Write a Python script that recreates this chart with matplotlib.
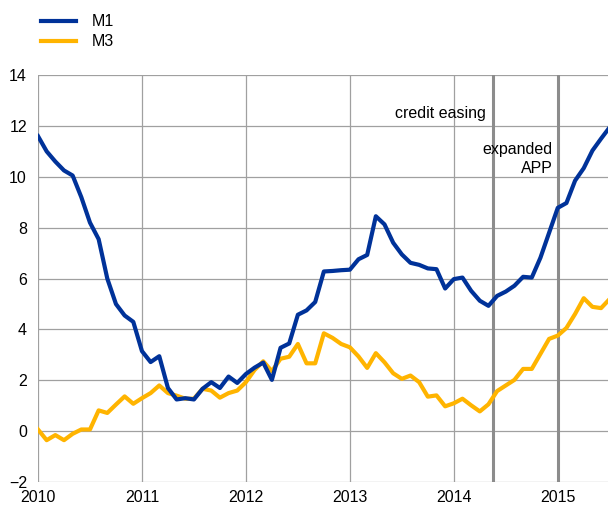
import matplotlib
matplotlib.use("Agg")
import matplotlib.pyplot as plt
import numpy as np

plt.rcParams['font.family'] = ['Liberation Sans', 'DejaVu Sans']

# monthly annual growth rates, Jan 2010 - Jul 2015
m1 = [11.6, 11.0, 10.6, 10.25, 10.05, 9.2, 8.2, 7.55, 6.0, 5.0, 4.55, 4.3,
      3.15, 2.72, 2.95, 1.7, 1.25, 1.3, 1.25, 1.67, 1.93, 1.7, 2.15, 1.9,
      2.25, 2.5, 2.7, 2.02, 3.28, 3.45, 4.58, 4.75, 5.08, 6.28, 6.3, 6.33,
      6.35, 6.76, 6.93, 8.45, 8.13, 7.41, 6.95, 6.62, 6.54, 6.4, 6.37, 5.61,
      5.98, 6.04, 5.52, 5.13, 4.93, 5.32, 5.49, 5.72, 6.07, 6.04, 6.82, 7.8,
      8.78, 8.97, 9.85, 10.34, 11.03, 11.5, 11.95]
m3 = [0.07, -0.35, -0.15, -0.35, -0.1, 0.07, 0.07, 0.82, 0.72, 1.05, 1.37, 1.08,
      1.3, 1.5, 1.8, 1.5, 1.4, 1.28, 1.28, 1.67, 1.6, 1.32, 1.5, 1.6,
      1.93, 2.41, 2.75, 2.36, 2.85, 2.93, 3.43, 2.67, 2.67, 3.85, 3.67, 3.43,
      3.3, 2.94, 2.49, 3.07, 2.71, 2.28, 2.06, 2.19, 1.93, 1.36, 1.41, 0.98,
      1.1, 1.28, 1.02, 0.78, 1.06, 1.58, 1.8, 2.02, 2.45, 2.45, 3.04, 3.63,
      3.76, 4.06, 4.61, 5.23, 4.89, 4.84, 5.2]
years = [2010, 2011, 2012, 2013, 2014, 2015]
events = [2014.38, 2015.0]
event_labels = ["credit easing", "expanded\nAPP"]

t = 2010 + np.arange(len(m1)) / 12.0

fig = plt.figure(figsize=(6.08, 5.07), dpi=100)
ax = fig.add_axes([0.0625, 0.049, 0.9375, 0.803])

grid_c = '#a0a0a0'
for y in range(-2, 15, 2):
    ax.axhline(y, color=grid_c, lw=0.9, zorder=1)
for x in years:
    ax.axvline(x, color=grid_c, lw=0.9, zorder=1)

# policy events
for x in events:
    ax.axvline(x, color='#8c8c8c', lw=2.2, zorder=2)

ax.plot(t, m1, color='#003299', lw=3.0, label='M1', zorder=4, solid_joinstyle='round')
ax.plot(t, m3, color='#ffb400', lw=3.0, label='M3', zorder=3, solid_joinstyle='round')

ax.text(events[0] - 0.07, 12.5, event_labels[0], ha='right', va='center', fontsize=11.5)
ax.text(events[1] - 0.05, 10.7, event_labels[1], ha='right', va='center',
        fontsize=11.5, multialignment='right', linespacing=1.35)

ax.set_xlim(2010, 2010 + 65.8 / 12)
ax.set_ylim(-2, 14)
ax.set_xticks(years)
ax.set_xticklabels([str(y) for y in years])
ax.set_yticks(range(-2, 15, 2))
ax.tick_params(length=0, labelsize=11.5, colors='black')
ax.tick_params(axis='y', pad=8)
ax.tick_params(axis='x', pad=6)
for s in ax.spines.values():
    s.set_visible(False)

fig.legend(loc='upper left', bbox_to_anchor=(0.043, 1.0), frameon=False,
           fontsize=11.5, handlelength=2.2, labelspacing=0.3, handletextpad=1.0)

fig.savefig('out.png', dpi=100)
